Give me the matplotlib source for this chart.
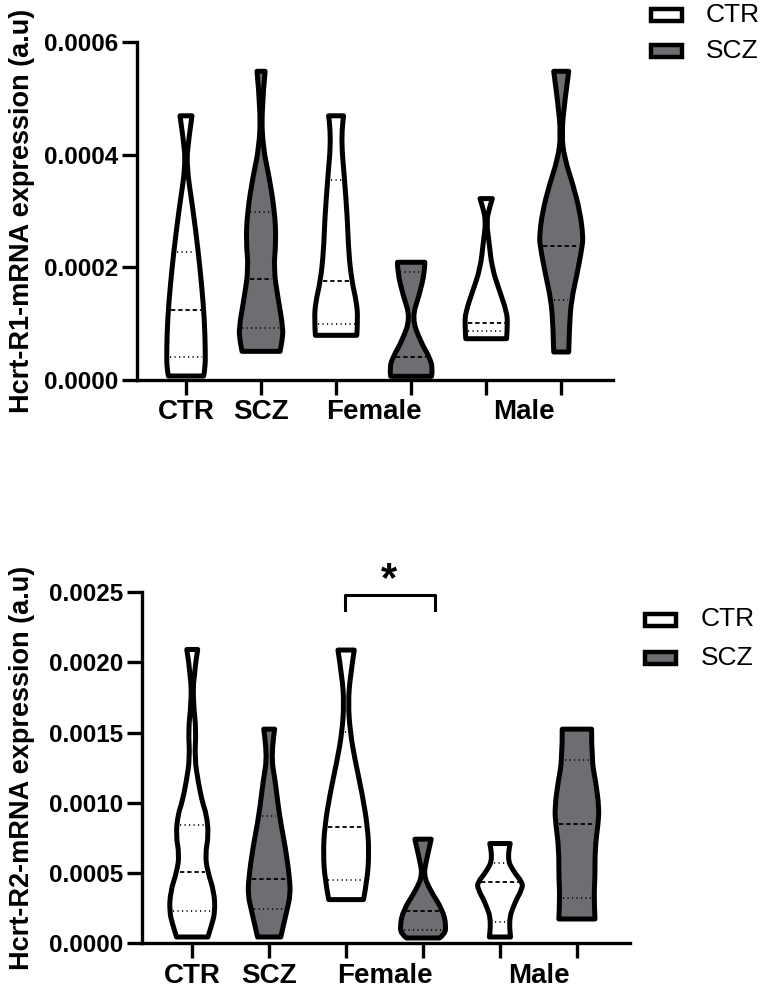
import numpy as np
import matplotlib.pyplot as plt
from matplotlib.path import Path
from matplotlib.patches import PathPatch, Rectangle

plt.rcParams['font.family'] = ['Liberation Sans', 'DejaVu Sans']

positions = [1, 2, 3, 4, 5, 6]
group_names = ['CTR', 'SCZ', 'Female', 'Male']
group_pos = [1, 2, 3.5, 5.5]
grey = '#6d6e72'
fills = ['white', grey, 'white', grey, 'white', grey]

# Hcrt-R1: violin outlines (value, half width in x units)
r1_levels = [
    [0.0000071, 0.0000207, 0.0000503, 0.000109, 0.000169, 0.000228, 0.000305, 0.000382, 0.000430, 0.000469],
    [0.0000509, 0.0000700, 0.0000917, 0.000145, 0.000198, 0.000246, 0.000299, 0.000364, 0.000411, 0.000476, 0.000548],
    [0.0000793, 0.000109, 0.000139, 0.000176, 0.000228, 0.000287, 0.000355, 0.000435, 0.000469],
    [0.0000065, 0.0000207, 0.0000414, 0.0000680, 0.000110, 0.000151, 0.000192, 0.000209],
    [0.0000733, 0.000101, 0.000121, 0.000157, 0.000198, 0.000246, 0.000281, 0.000305, 0.000322],
    [0.0000497, 0.0000976, 0.000142, 0.000186, 0.000238, 0.000257, 0.000299, 0.000346, 0.000393, 0.000435, 0.000494, 0.000548],
]
r1_widths = [
    [0.235, 0.255, 0.258, 0.245, 0.208, 0.163, 0.091, 0.004, 0.037, 0.080],
    [0.254, 0.282, 0.295, 0.226, 0.167, 0.200, 0.182, 0.104, 0.028, 0.004, 0.054],
    [0.276, 0.290, 0.272, 0.208, 0.167, 0.150, 0.113, 0.063, 0.100],
    [0.272, 0.290, 0.241, 0.126, 0.009, 0.109, 0.182, 0.182],
    [0.272, 0.286, 0.272, 0.182, 0.078, 0.037, 0.004, 0.041, 0.082],
    [0.100, 0.109, 0.136, 0.208, 0.282, 0.290, 0.249, 0.159, 0.045, 0.004, 0.045, 0.100],
]
r1_median = [0.000124, 0.000180, 0.000176, 0.0000414, 0.000101, 0.000238]
r1_quartiles = [[0.0000414, 0.000228], [0.0000917, 0.000298], [0.0000994, 0.000355],
                [0.000192], [0.000087], [0.000142]]

# Hcrt-R2
r2_levels = [
    [0.0000449, 0.000130, 0.000225, 0.000368, 0.000510, 0.000629, 0.000772, 0.00092, 0.00100, 0.00115, 0.00132, 0.00152, 0.00170, 0.00189, 0.002091],
    [0.0000449, 0.000107, 0.000244, 0.000344, 0.000463, 0.000677, 0.000907, 0.001151, 0.001341, 0.001524],
    [0.000311, 0.000451, 0.000641, 0.000831, 0.001068, 0.001306, 0.001503, 0.001710, 0.001899, 0.002087],
    [0.0000378, 0.0000600, 0.000119, 0.000237, 0.000380, 0.000487, 0.000593, 0.000741],
    [0.0000449, 0.000154, 0.000273, 0.000392, 0.000435, 0.000510, 0.000605, 0.000710],
    [0.000173, 0.000325, 0.000463, 0.000677, 0.000848, 0.000962, 0.001151, 0.001306, 0.001524],
]
r2_widths = [
    [0.204, 0.253, 0.297, 0.284, 0.200, 0.168, 0.213, 0.184, 0.133, 0.077, 0.031, 0.051, 0.015, 0.013, 0.071],
    [0.151, 0.177, 0.235, 0.275, 0.266, 0.213, 0.133, 0.080, 0.022, 0.071],
    [0.226, 0.275, 0.297, 0.279, 0.208, 0.115, 0.053, 0.027, 0.053, 0.106],
    [0.213, 0.275, 0.302, 0.257, 0.089, 0.009, 0.044, 0.106],
    [0.138, 0.111, 0.177, 0.293, 0.289, 0.177, 0.089, 0.133],
    [0.235, 0.221, 0.235, 0.235, 0.275, 0.289, 0.244, 0.191, 0.191],
]
r2_median = [0.000510, 0.000458, 0.000831, 0.000230, 0.000435, 0.000848]
r2_quartiles = [[0.000230, 0.000843], [0.000244, 0.000907], [0.000451, 0.001503],
                [0.0000947], [0.000154, 0.000574], [0.000325, 0.001306]]


def side_path(pts, verts, codes, start):
    verts.append(pts[0])
    codes.append(start)
    n = len(pts)
    for i in range(1, n - 1):
        if i == n - 2:
            end = pts[i + 1]
        else:
            end = ((pts[i][0] + pts[i + 1][0]) / 2, (pts[i][1] + pts[i + 1][1]) / 2)
        verts += [pts[i], end]
        codes += [Path.CURVE3, Path.CURVE3]


def violin(ax, c, lev, hw, fc):
    right = [(c + w, y) for y, w in zip(lev, hw)]
    left = [(c - w, y) for y, w in zip(lev, hw)][::-1]
    verts, codes = [], []
    side_path(right, verts, codes, Path.MOVETO)
    side_path(left, verts, codes, Path.LINETO)
    verts.append(right[0])
    codes.append(Path.CLOSEPOLY)
    ax.add_patch(PathPatch(Path(verts, codes), facecolor=fc, edgecolor='black',
                           lw=3.6, joinstyle='round', zorder=3))


def panel(ax, levels, widths, medians, quarts, top, step, ylabel, ylab_y):
    for c, lev, hw, fc, med, qs in zip(positions, levels, widths, fills, medians, quarts):
        violin(ax, c, lev, hw, fc)
        w = np.interp(med, lev, hw) - 0.04
        ax.plot([c - w, c + w], [med, med], color='black', lw=1.3, ls=(0, (2.4, 1.6)), zorder=4)
        for q in qs:
            w = np.interp(q, lev, hw) - 0.04
            ax.plot([c - w, c + w], [q, q], color='black', lw=1.2, ls=(0, (0.7, 2.0)), zorder=4)
    ax.set_xlim(0.347, 6.69)
    ax.set_ylim(0, top)
    ax.set_yticks(np.arange(0, top + step / 2, step))
    ax.yaxis.set_major_formatter(plt.FormatStrFormatter('%.4f'))
    ax.xaxis.remove_overlapping_locs = False
    ax.set_xticks(positions)
    ax.set_xticklabels([])
    ax.set_xticks(group_pos, minor=True)
    ax.set_xticklabels(group_names, minor=True, fontsize=20, fontweight='bold')
    ax.tick_params(axis='x', which='major', length=11, width=2.4)
    ax.tick_params(axis='x', which='minor', length=0, pad=14)
    ax.tick_params(axis='y', length=11, width=2.4, pad=2.5, labelsize=17.5)
    for t in ax.get_yticklabels():
        t.set_fontweight('bold')
    for s in ['top', 'right']:
        ax.spines[s].set_visible(False)
    for s in ['left', 'bottom']:
        ax.spines[s].set_linewidth(2.4)
    fig.text(22 / 764, ylab_y, ylabel, rotation=90, ha='center', va='center',
             fontsize=19.5, fontweight='bold')


def legend(x0, ys, tx):
    for y, fc, name in zip(ys, ['white', grey], ['CTR', 'SCZ']):
        fig.add_artist(Rectangle((x0 / 764, 1 - (y + 6) / 992), 31 / 764, 12 / 992,
                                 facecolor=fc, edgecolor='black', lw=3.2,
                                 transform=fig.transFigure))
        fig.text(tx / 764, 1 - y / 992, name, fontsize=19, va='center', ha='left')


fig = plt.figure(figsize=(7.64, 9.92), dpi=100)
ax1 = fig.add_axes([137 / 764, 1 - 380 / 992, 476 / 764, 338 / 992])
ax2 = fig.add_axes([142 / 764, 1 - 943.3 / 992, 488 / 764, 351.3 / 992])

panel(ax1, r1_levels, r1_widths, r1_median, r1_quartiles, 0.0006, 0.0002,
      'Hcrt-R1-mRNA expression (a.u)', 1 - 211 / 992)
panel(ax2, r2_levels, r2_widths, r2_median, r2_quartiles, 0.0025, 0.0005,
      'Hcrt-R2-mRNA expression (a.u)', 1 - 768 / 992)

# significance bracket Female CTR vs SCZ
ax2.plot([2.98, 2.98, 4.16, 4.16], [0.002374, 0.002481, 0.002481, 0.002374],
         color='black', lw=2.2, clip_on=False)
ax2.text(3.556, 0.00251, '*', ha='center', va='baseline', fontsize=30,
         fontweight='bold', clip_on=False)

legend(651, [14.5, 51], 706)
legend(645, [619.5, 658.3], 701)

fig.savefig('out.png', dpi=100)
